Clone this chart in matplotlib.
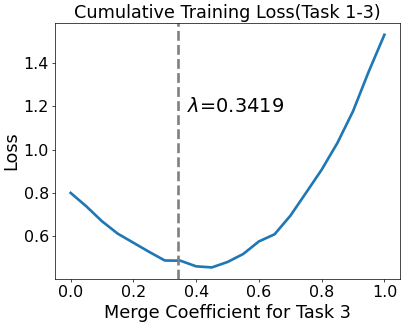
import matplotlib
matplotlib.use('Agg')
import matplotlib.pyplot as plt

# merge coefficient and cumulative loss
coef = [0.0, 0.05, 0.1, 0.15, 0.2, 0.25, 0.3, 0.35, 0.4, 0.45, 0.5,
        0.55, 0.6, 0.65, 0.7, 0.75, 0.8, 0.85, 0.9, 0.95, 1.0]
loss = [0.800, 0.738, 0.669, 0.612, 0.570, 0.528, 0.488, 0.487, 0.461, 0.456, 0.481,
        0.518, 0.576, 0.609, 0.694, 0.800, 0.907, 1.030, 1.177, 1.360, 1.530]
best_lambda = 0.3419

# drawn like a 6.4in figure shrunk down to 407 px wide
dpi = 407 / 6.4
fig = plt.figure(figsize=(6.4, 326 / dpi), dpi=dpi)
ax = fig.add_axes([0.135, 0.144, 0.848, 0.785])
ax.plot(coef, loss, color='tab:blue', linewidth=3)
ax.axvline(best_lambda, color='gray', linestyle='--', linewidth=3)
ax.text(best_lambda + 0.03, 1.2, r'$\lambda$=%.4f' % best_lambda, fontsize=22, va='center')
ax.set_title('Cumulative Training Loss(Task 1-3)', fontsize=20)
ax.set_xlabel('Merge Coefficient for Task 3', fontsize=20)
ax.set_ylabel('Loss', fontsize=20)
ax.tick_params(labelsize=18)
ax.set_xticks([0.0, 0.2, 0.4, 0.6, 0.8, 1.0])
ax.set_yticks([0.6, 0.8, 1.0, 1.2, 1.4])
fig.savefig('out.png', dpi=dpi)
